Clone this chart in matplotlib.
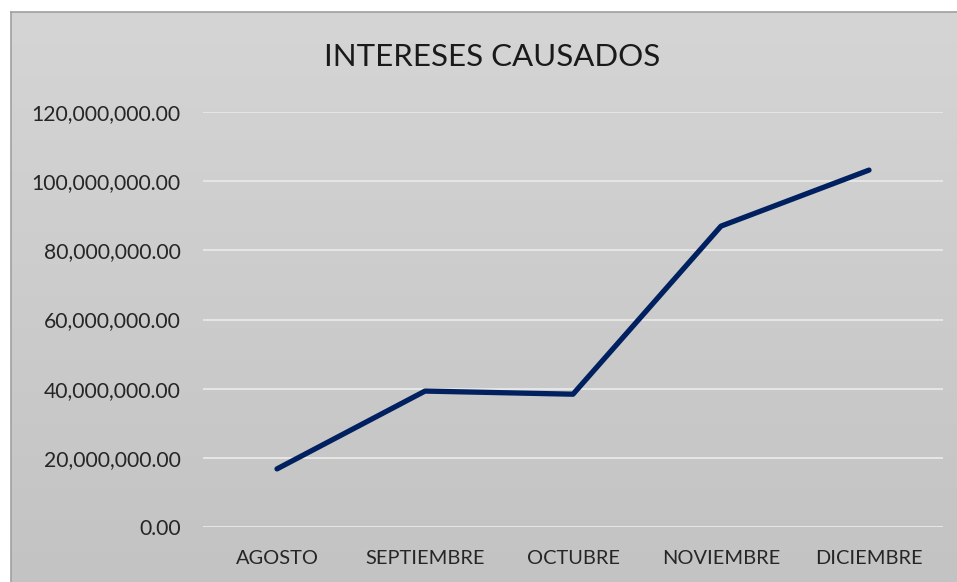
import matplotlib
matplotlib.use("Agg")
import matplotlib.pyplot as plt
import numpy as np
from matplotlib.ticker import FuncFormatter

categories = ["AGOSTO", "SEPTIEMBRE", "OCTUBRE", "NOVIEMBRE", "DICIEMBRE"]
values = [16.8e6, 39.3e6, 38.4e6, 87.0e6, 103.2e6]
yticks = [0, 20e6, 40e6, 60e6, 80e6, 100e6, 120e6]
title = "INTERESES CAUSADOS"

plt.rcParams['font.family'] = ['Lato', 'DejaVu Sans']

W, H = 957, 582
fig = plt.figure(figsize=(W/100, H/100), dpi=100, facecolor="white")

# background panel with vertical gradient
bg = fig.add_axes([11/W, 0, 1 - 11/W, (H - 12)/H])
grad = np.linspace(0, 1, 256).reshape(-1, 1)
top_c = np.array([0.835, 0.835, 0.835])
bot_c = np.array([0.765, 0.765, 0.765])
img = top_c[None, None, :] * (1 - grad[:, :, None]) + bot_c[None, None, :] * grad[:, :, None]
bg.imshow(img, aspect="auto", extent=[0, 1, 0, 1], origin="upper")
bg.set_xlim(0, 1); bg.set_ylim(0, 1)
bg.set_xticks([]); bg.set_yticks([])
for s in ["right", "bottom"]:
    bg.spines[s].set_visible(False)
for s in ["top", "left"]:
    bg.spines[s].set_color("#a0a0a0")
    bg.spines[s].set_linewidth(1.2)

ax = fig.add_axes([203/W, 1 - 527/H, (943 - 203)/W, (527 - 112)/H])
ax.patch.set_alpha(0)
x = np.arange(len(categories))
ax.set_xlim(-0.5, len(categories) - 0.5)
ax.set_ylim(0, 120e6)
ax.set_yticks(yticks)
ax.yaxis.set_major_formatter(FuncFormatter(lambda v, p: f"{v:,.2f}"))
ax.set_xticks(x)
ax.set_xticklabels(categories)
ax.grid(axis="y", color="#e6e6e6", linewidth=1.4)
ax.set_axisbelow(True)
for s in ax.spines.values():
    s.set_visible(False)
ax.tick_params(axis="both", length=0, colors="#262626")
ax.tick_params(axis="y", pad=16, labelsize=15.2)
ax.tick_params(axis="x", pad=16.5, labelsize=14.4)
ax.plot(x, values, color="#002060", linewidth=3.8, solid_capstyle="round",
        solid_joinstyle="round", zorder=3)

fig.text(492/W, 1 - 57/H, title, ha="center", va="center", fontsize=22.5,
         color="#1a1a1a")

fig.savefig("out.png", dpi=100, facecolor="white")
